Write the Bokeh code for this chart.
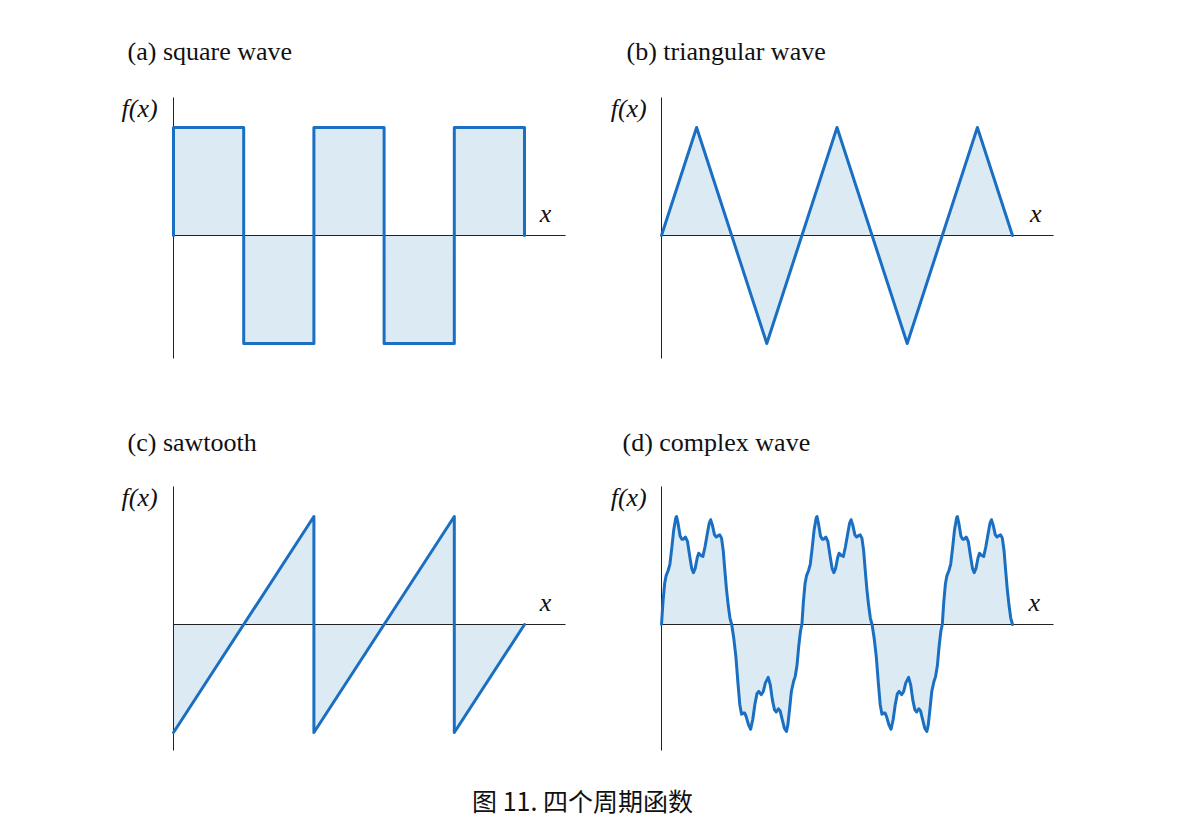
from bokeh.plotting import figure
from bokeh.models import Label, Range1d
from bokeh.layouts import column, row
from bokeh.embed import file_html
from bokeh.resources import INLINE

# ---------------- data ----------------
# x in half-periods (5 half-periods shown), y in amplitude units
square_x = [0, 0, 1, 1, 2, 2, 3, 3, 4, 4, 5, 5]
square_y = [0, 1, 1, -1, -1, 1, 1, -1, -1, 1, 1, 0]

triangle_x = [0, 0.5, 1.5, 2.5, 3.5, 4.5, 5]
triangle_y = [0, 1, -1, 1, -1, 1, 0]

sawtooth_x = [0, 2, 2, 4, 4, 5]
sawtooth_y = [-1, 1, -1, 1, -1, 0]

# complex wave: shape of one positive lobe and one negative lobe
complex_pos_u = [0.000, 0.020, 0.045, 0.065, 0.095, 0.120, 0.145, 0.175, 0.205, 0.215,
                 0.235, 0.265, 0.290, 0.310, 0.340, 0.370, 0.400, 0.430, 0.455, 0.480,
                 0.510, 0.530, 0.560, 0.590, 0.620, 0.650, 0.680, 0.700, 0.725, 0.755,
                 0.780, 0.800, 0.830, 0.855, 0.880, 0.900, 0.925, 0.950, 0.975, 1.000]
complex_pos_v = [0.00, 0.20, 0.38, 0.45, 0.50, 0.56, 0.70, 0.88, 0.99, 1.00,
                 0.94, 0.82, 0.79, 0.79, 0.81, 0.77, 0.64, 0.52, 0.48, 0.52,
                 0.62, 0.66, 0.64, 0.63, 0.72, 0.83, 0.94, 0.97, 0.92, 0.83,
                 0.81, 0.82, 0.83, 0.80, 0.68, 0.52, 0.33, 0.18, 0.06, 0.00]
complex_neg_u = [0.000, 0.030, 0.060, 0.090, 0.115, 0.140, 0.165, 0.185, 0.205, 0.240,
                 0.270, 0.300, 0.330, 0.360, 0.385, 0.420, 0.450, 0.480, 0.520, 0.550,
                 0.580, 0.610, 0.635, 0.665, 0.690, 0.720, 0.750, 0.780, 0.800, 0.825,
                 0.850, 0.880, 0.905, 0.930, 0.955, 0.980, 1.000]
complex_neg_v = [0.00, -0.13, -0.30, -0.55, -0.74, -0.83, -0.82, -0.82, -0.85, -0.93,
                 -0.97, -0.88, -0.74, -0.64, -0.62, -0.65, -0.62, -0.54, -0.49, -0.56,
                 -0.70, -0.79, -0.81, -0.78, -0.80, -0.88, -0.96, -0.99, -0.93, -0.78,
                 -0.62, -0.53, -0.48, -0.38, -0.20, -0.06, 0.00]
complex_lobes = ["+", "-", "+", "-", "+"]

titles = ["(a) square wave", "(b) triangular wave", "(c) sawtooth", "(d) complex wave"]
y_label = "f(x)"
x_label = "x"
caption = "图 11. 四个周期函数"

# build the complex-wave table from the lobes
complex_x, complex_y = [], []
for k, sign in enumerate(complex_lobes):
    us, vs = (complex_pos_u, complex_pos_v) if sign == "+" else (complex_neg_u, complex_neg_v)
    start = 0 if k == 0 else 1
    complex_x += [k + u for u in us[start:]]
    complex_y += vs[start:]

# ---------------- style / geometry ----------------
LINE = "#1a6fc2"
FILL = "#dcebf3"
AXIS = "#222222"
TEXT = "#111111"
SERIF = "Liberation Serif"
FS = "26px"
PX_X = 70.2    # px per half period
PX_Y = 108.0   # px per amplitude unit
X_AXIS_END = 5.584
Y_AXIS_TOP = 1.278


def panel(xs, ys, title, fig_w, fig_h, origin_x, origin_y, y_axis_bottom,
          title_x, title_y, fx_x, xlab_x):
    # origin_x / origin_y: pixel position of the data origin inside this figure
    p = figure(width=fig_w, height=fig_h,
               x_range=Range1d(-origin_x / PX_X, (fig_w - origin_x) / PX_X),
               y_range=Range1d(-(fig_h - origin_y) / PX_Y, origin_y / PX_Y),
               output_backend="svg", toolbar_location=None,
               x_axis_location=None, y_axis_location=None,
               min_border_left=0, min_border_right=0,
               min_border_top=0, min_border_bottom=0)
    p.grid.visible = False
    p.outline_line_color = None
    p.varea(x=xs, y1=0, y2=ys, fill_color=FILL)
    # axis lines
    p.segment(x0=[0, 0], y0=[0, y_axis_bottom], x1=[X_AXIS_END, 0], y1=[0, Y_AXIS_TOP],
              line_color=AXIS, line_width=1)
    p.line(xs, ys, line_color=LINE, line_width=3, line_join="round", line_cap="round")
    p.add_layout(Label(x=title_x, y=title_y, text=title, text_font=SERIF,
                       text_font_size=FS, text_color=TEXT,
                       text_align="left", text_baseline="alphabetic"))
    p.add_layout(Label(x=fx_x, y=1.18, text=y_label, text_font=SERIF,
                       text_font_size=FS, text_font_style="italic", text_color=TEXT,
                       text_align="right", text_baseline="alphabetic"))
    p.add_layout(Label(x=xlab_x, y=0.205, text=x_label, text_font=SERIF,
                       text_font_size=FS, text_font_style="italic", text_color=TEXT,
                       text_align="center", text_baseline="alphabetic"))
    return p


pa = panel(square_x, square_y, titles[0], 600, 397, 173, 235, -1.139,
           -0.655, 1.706, -0.225, 5.30)
pb = panel(triangle_x, triangle_y, titles[1], 592, 397, 61, 235, -1.139,
           -0.499, 1.706, -0.21, 5.33)
pc = panel(sawtooth_x, sawtooth_y, titles[2], 600, 370, 173, 227, -1.167,
           -0.655, 1.688, -0.225, 5.30)
pd = panel(complex_x, complex_y, titles[3], 592, 370, 61, 227, -1.167,
           -0.556, 1.688, -0.21, 5.31)

cap = figure(width=1192, height=62, x_range=Range1d(0, 1192), y_range=Range1d(0, 62),
             output_backend="svg", toolbar_location=None,
             x_axis_location=None, y_axis_location=None,
             min_border_left=0, min_border_right=0, min_border_top=0, min_border_bottom=0)
cap.grid.visible = False
cap.outline_line_color = None
cap.add_layout(Label(x=582, y=30, text=caption, text_font="Noto Sans CJK SC",
                     text_font_size="25px", text_color=TEXT,
                     text_align="center", text_baseline="middle"))

layout = column(row(pa, pb), row(pc, pd), cap)
open("out.html", "w").write(file_html(layout, INLINE))
